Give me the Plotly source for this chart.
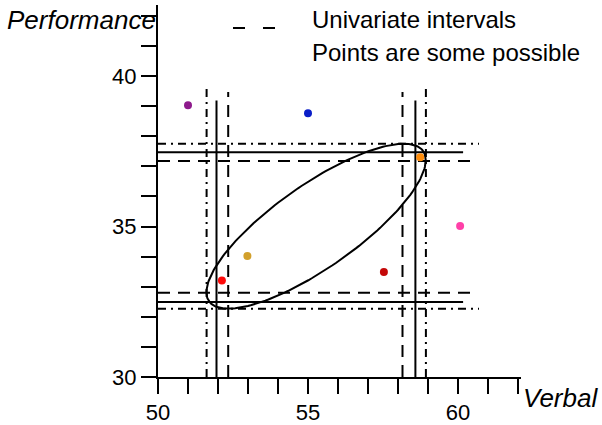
import numpy as np
import plotly.graph_objects as go

# ---- data ----
# simultaneous T^2 intervals (dash-dot), Bonferroni (solid), univariate (dashed)
t2_x = [51.62, 58.93]
t2_y = [32.27, 37.75]
t2_vtop = 39.69
t2_hend = 60.70

bon_x = [51.95, 58.58]
bon_y = [32.49, 37.47]
bon_vtop = 39.19
bon_hend = 60.17

uni_x = [52.34, 58.15]
uni_y = [32.80, 37.18]
uni_vtop = 39.47
uni_hend = 60.50

# confidence ellipse parameters
ell_center = [55.27, 35.01]
ell_half = [3.655, 2.74]
ell_r = 0.80

# possible points
pt_x = [51.0, 55.0, 58.74, 60.07, 52.98, 57.53, 52.13]
pt_y = [39.03, 38.76, 37.30, 35.02, 34.02, 33.49, 33.21]
pt_colors = ["#8E1A8C", "#0A1EC8", "#FF8C0A", "#FF40A8", "#D2A02C", "#C40808", "#FF0A0A"]

x_range = [50, 62.1]
y_range = [30, 42.36]
x_ticks = [50, 55, 60]
y_ticks = [30, 35, 40]

FONT = "Liberation Sans"


def box_lines(xs, ys, vtop, hend):
    lx, ly = [], []
    for xv in xs:
        lx += [xv, xv, None]
        ly += [y_range[0], vtop, None]
    for yv in ys:
        lx += [x_range[0], hend, None]
        ly += [yv, yv, None]
    return lx, ly


fig = go.Figure()

for xs, ys, vt, he, dash in [
    (t2_x, t2_y, t2_vtop, t2_hend, "8px,5px,2px,5px"),
    (bon_x, bon_y, bon_vtop, bon_hend, "solid"),
    (uni_x, uni_y, uni_vtop, uni_hend, "12px,8px"),
]:
    lx, ly = box_lines(xs, ys, vt, he)
    fig.add_trace(go.Scatter(x=lx, y=ly, mode="lines",
                             line=dict(color="black", width=2, dash=dash),
                             hoverinfo="skip", showlegend=False))

t = np.linspace(0, 2 * np.pi, 200)
delta = np.arccos(ell_r)
ex = ell_center[0] + ell_half[0] * np.cos(t)
ey = ell_center[1] + ell_half[1] * np.cos(t - delta)
fig.add_trace(go.Scatter(x=ex, y=ey, mode="lines",
                         line=dict(color="black", width=2),
                         hoverinfo="skip", showlegend=False))

fig.add_trace(go.Scatter(x=pt_x, y=pt_y, mode="markers",
                         marker=dict(color=pt_colors, size=8, line=dict(width=0)),
                         showlegend=False))

axis_common = dict(
    showgrid=False, zeroline=False, showline=True, linecolor="black", linewidth=2,
    ticks="outside", ticklen=15, tickwidth=2, tickcolor="black", automargin=False,
    tickfont=dict(family=FONT, size=22, color="black"),
    minor=dict(dtick=1, ticks="outside", ticklen=15, tickwidth=2, tickcolor="black", showgrid=False),
)

fig.update_xaxes(range=x_range, tickmode="array", tickvals=x_ticks, **axis_common)
fig.update_yaxes(range=y_range, tickmode="array", tickvals=y_ticks, **axis_common)

# legend (drawn manually)
fig.add_shape(type="line", xref="paper", yref="paper",
              x0=(233 - 158) / 363, x1=(276 - 158) / 363,
              y0=(377 - 28) / 372, y1=(377 - 28) / 372,
              line=dict(color="black", width=2, dash="12px,18px"))

ann_font = dict(family=FONT, size=24, color="black")
title_font = dict(family=FONT, size=26, color="black")
fig.add_annotation(text="Univariate intervals", xref="paper", yref="paper",
                   x=(310 - 158) / 363, y=(377 - 20) / 372, xanchor="left", yanchor="middle",
                   showarrow=False, font=ann_font)
fig.add_annotation(text="Points are some possible", xref="paper", yref="paper",
                   x=(310 - 158) / 363, y=(377 - 52) / 372, xanchor="left", yanchor="middle",
                   showarrow=False, font=ann_font)
fig.add_annotation(text="<i>Performance</i>", xref="paper", yref="paper",
                   x=(158 - 158) / 363, y=(377 - 20) / 372, xanchor="right", yanchor="middle",
                   showarrow=False, font=title_font)
fig.add_annotation(text="<i>Verbal</i>", xref="paper", yref="paper",
                   x=(521 - 158) / 363, y=(377 - 398) / 372, xanchor="left", yanchor="middle",
                   showarrow=False, font=title_font)

fig.update_layout(
    width=602, height=425,
    margin=dict(l=158, r=81, t=5, b=48),
    plot_bgcolor="white", paper_bgcolor="white",
    showlegend=False,
)

fig.write_html("out.html", config={"displayModeBar": False},
               post_script="document.body.style.margin='0px';")
